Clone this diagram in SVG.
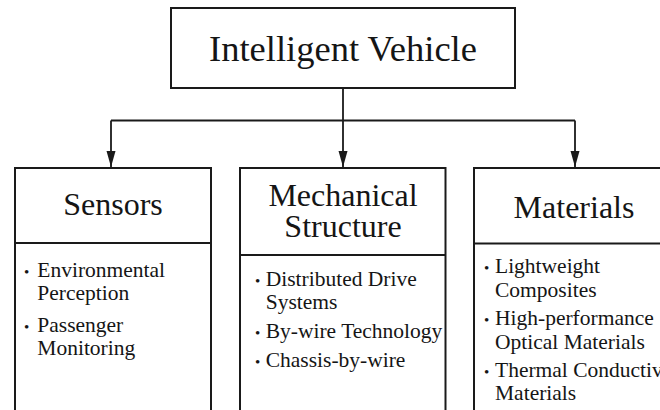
<svg xmlns="http://www.w3.org/2000/svg" width="660" height="410" viewBox="0 0 660 410">
<style>
.box{fill:#fff;stroke:#1a1a1a;stroke-width:2}
.sep{stroke:#1a1a1a;stroke-width:2}
.conn{fill:none;stroke:#1a1a1a;stroke-width:1.8}
text{font-family:"Liberation Serif","Times New Roman",serif;fill:#151515}
.title{font-size:36.5px;text-anchor:middle}
.head{font-size:32px;text-anchor:middle}
.item{font-size:21.5px}
.b{font-size:15px}
</style>
<defs>
<marker id="arr" markerUnits="userSpaceOnUse" markerWidth="17" markerHeight="10" refX="16" refY="4.5" orient="auto">
<path d="M0,0 L16,4.5 L0,9 z" fill="#1a1a1a"/>
</marker>
</defs>
<rect width="660" height="410" fill="#fff"/>
<g id="connectors">
<line class="conn" x1="343" y1="88" x2="343" y2="167" marker-end="url(#arr)"/>
<line class="conn" x1="111" y1="120.5" x2="575" y2="120.5"/>
<line class="conn" x1="111" y1="120.5" x2="111" y2="167" marker-end="url(#arr)"/>
<line class="conn" x1="575" y1="120.5" x2="575" y2="167" marker-end="url(#arr)"/>
</g>
<g id="intelligent-vehicle">
<rect class="box" x="171" y="8" width="344" height="80"/>
<text class="title" x="343" y="61">Intelligent Vehicle</text>
</g>
<g id="sensors">
<rect class="box" x="15" y="168" width="196" height="260"/>
<line class="sep" x1="15" y1="243" x2="211" y2="243"/>
<text class="head" x="113" y="214.5">Sensors</text>
<text class="item" y="276.7"><tspan class="b" x="24">•</tspan><tspan x="37.3">Environmental</tspan></text>
<text class="item" x="37.3" y="300">Perception</text>
<text class="item" y="331.7"><tspan class="b" x="24">•</tspan><tspan x="37.3">Passenger</tspan></text>
<text class="item" x="37.3" y="355">Monitoring</text>
</g>
<g id="mechanical-structure">
<rect class="box" x="240" y="168" width="205.5" height="260"/>
<line class="sep" x1="240" y1="255" x2="445.5" y2="255"/>
<text class="head" x="343" y="205.5">Mechanical</text>
<text class="head" x="343" y="237">Structure</text>
<text class="item" y="285.5"><tspan class="b" x="255">•</tspan><tspan x="265.7">Distributed Drive</tspan></text>
<text class="item" x="265.7" y="308.5">Systems</text>
<text class="item" y="338"><tspan class="b" x="255">•</tspan><tspan x="265.7">By-wire Technology</tspan></text>
<text class="item" y="367"><tspan class="b" x="255">•</tspan><tspan x="265.7">Chassis-by-wire</tspan></text>
</g>
<g id="materials">
<rect class="box" x="474" y="168" width="200" height="260"/>
<line class="sep" x1="474" y1="243.5" x2="674" y2="243.5"/>
<text class="head" x="574" y="218">Materials</text>
<text class="item" y="273.3"><tspan class="b" x="484">•</tspan><tspan x="495">Lightweight</tspan></text>
<text class="item" x="495" y="297.3">Composites</text>
<text class="item" y="325"><tspan class="b" x="484">•</tspan><tspan x="495">High-performance</tspan></text>
<text class="item" x="495" y="349.3">Optical Materials</text>
<text class="item" y="377.3"><tspan class="b" x="484">•</tspan><tspan x="495">Thermal Conductive</tspan></text>
<text class="item" x="495" y="400">Materials</text>
</g>
</svg>
